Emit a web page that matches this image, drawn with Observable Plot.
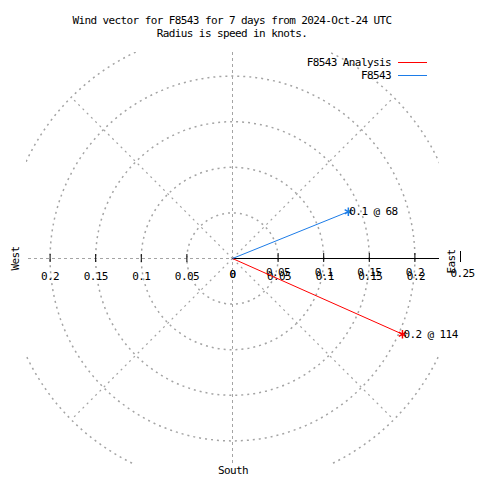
<!DOCTYPE html>
<html><head><meta charset="utf-8">
<script src="https://cdn.jsdelivr.net/npm/d3@7"></script>
<script src="https://cdn.jsdelivr.net/npm/@observablehq/plot@0.6"></script>
<style>
body{margin:0;background:#fff;}
#wrap{position:relative;width:480px;height:480px;font-family:"DejaVu Sans Mono",monospace;font-size:11px;letter-spacing:-0.6px;color:#000;}
#title{position:absolute;top:14px;left:0;width:464px;text-align:center;line-height:13px;white-space:pre;}
#legend{position:absolute;top:56px;right:53px;line-height:13px;}
.row{display:flex;justify-content:flex-end;align-items:center;height:13px;}
.sw{display:inline-block;width:29px;height:0;border-top:1px solid;margin-left:7px;}
#chart{position:absolute;left:0;top:0;}
</style></head>
<body>
<div id="wrap"><div id="chart"></div><div id="title"></div><div id="legend"></div></div>
<script>
const titleLines = ["Wind vector for F8543 for 7 days from 2024-Oct-24 UTC", "Radius is speed in knots."];
const series = ["F8543 Analysis", "F8543"];
const colors = ["#ff0000", "#1c7ce8"];
const speeds = [0.204, 0.137];
const directions = [114, 68];
const vecLabels = ["0.2 @ 114", "0.1 @ 68"];
const ringRadii = [0.05, 0.1, 0.15, 0.2, 0.25];
const spokeAngles = [45, 135, 225, 315];
const tickValues = [0.05, 0.1, 0.15, 0.2];
const tickLabels = ["0.05", "0.1", "0.15", "0.2"];
const outerTick = 0.25, outerLabel = "0.25";
const compass = ["West", "East", "South"];

const rad = a => a * Math.PI / 180;
const vectors = series.map((s, i) => ({
  series: s, label: vecLabels[i],
  x: speeds[i] * Math.sin(rad(directions[i])),
  y: speeds[i] * Math.cos(rad(directions[i]))
}));
const ticks = tickValues.map((v, i) => ({v, label: tickLabels[i]}));

document.getElementById("title").textContent = titleLines.join("\n");
const leg = document.getElementById("legend");
series.forEach((s, i) => {
  const row = document.createElement("div"); row.className = "row";
  const t = document.createElement("span"); t.textContent = s;
  const sw = document.createElement("span"); sw.className = "sw"; sw.style.borderTopColor = colors[i];
  row.appendChild(t); row.appendChild(sw); leg.appendChild(row);
});

const grid = "#a4a4a4";
const plot = Plot.plot({
  width: 480, height: 480,
  marginLeft: 26, marginRight: 41, marginTop: 52, marginBottom: 16,
  x: {domain: [-0.25, 0.25], range: [4, 460], axis: null},
  y: {domain: [-0.25, 0.25], range: [486, 30], axis: null},
  r: {type: "linear", domain: [0, 0.25], range: [0, 228]},
  color: {domain: series, range: colors},
  style: {fontFamily: "DejaVu Sans Mono", fontSize: "11px", letterSpacing: "-0.6px", background: "transparent", overflow: "visible"},
  marks: [
    Plot.dot(ringRadii, {x: () => 0, y: () => 0, r: d => d, stroke: grid, fill: "none", strokeDasharray: "2,4", clip: "frame"}),
    Plot.link(spokeAngles, {x1: () => 0, y1: () => 0, x2: a => 0.25 * Math.sin(rad(a)), y2: a => 0.25 * Math.cos(rad(a)), stroke: grid, strokeWidth: 1.2, strokeDasharray: "2,4", clip: "frame"}),
    Plot.ruleX([0], {stroke: grid, strokeDasharray: "3,3"}),
    Plot.ruleY([0], {x1: () => -0.25, x2: () => 0, stroke: grid, strokeDasharray: "3,3", clip: "frame"}),
    Plot.ruleY([0], {x1: () => 0, x2: () => 0.25, stroke: "#000", clip: "frame"}),
    Plot.ruleX(ticks, {x: d => -d.v, y1: () => 0, y2: () => 0, insetTop: -4, insetBottom: -4, stroke: "#000"}),
    Plot.ruleX(ticks, {x: d => d.v, y1: () => 0, y2: () => 0, insetTop: -5, insetBottom: -4, stroke: "#000"}),
    Plot.ruleX([outerTick], {x: d => d, y1: () => 0, y2: () => 0, insetTop: -7, insetBottom: -4, stroke: "#000"}),
    Plot.text(ticks, {x: d => -d.v, y: () => 0, text: "label", dy: 18}),
    Plot.text(ticks, {x: d => d.v, y: () => 0, text: "label", dy: 18, dx: 1}),
    Plot.text(ticks, {x: d => d.v, y: () => 0, text: "label", dy: 14}),
    Plot.text([outerTick], {x: d => d, y: () => 0, text: () => outerLabel, dy: 15, dx: 2}),
    Plot.text([0, 0], {x: d => d, y: () => 0, text: () => "0", dy: 16}),
    Plot.link(vectors, {x1: () => 0, y1: () => 0, x2: "x", y2: "y", stroke: "series"}),
    Plot.dot(vectors, {x: "x", y: "y", symbol: "asterisk", r: 4, stroke: "series"}),
    Plot.text(vectors, {x: "x", y: "y", text: "label", textAnchor: "start", dx: 1, fill: "#000"}),
    Plot.text([compass[0]], {text: d => d, frameAnchor: "left", textAnchor: "middle", lineAnchor: "middle", dx: -11, rotate: -90}),
    Plot.text([compass[1]], {text: d => d, frameAnchor: "right", textAnchor: "middle", lineAnchor: "middle", dx: 12, dy: 3, rotate: -90}),
    Plot.text([compass[2]], {text: d => d, frameAnchor: "bottom", textAnchor: "middle", lineAnchor: "middle", dy: 6})
  ]
});
document.getElementById("chart").appendChild(plot);
</script>
</body></html>
